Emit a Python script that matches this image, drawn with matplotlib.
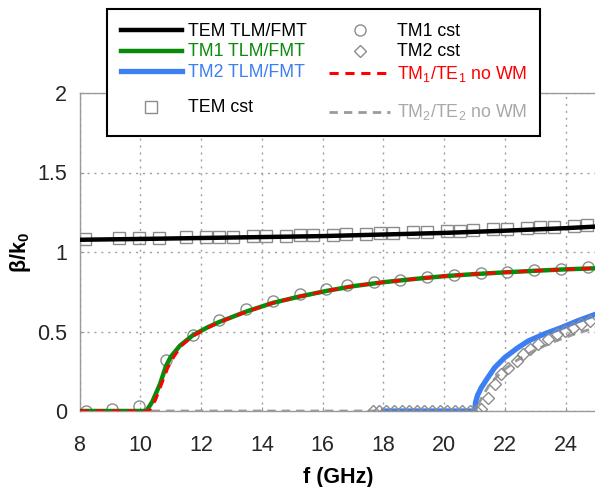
import matplotlib
matplotlib.use('Agg')
import matplotlib.pyplot as plt
from matplotlib.lines import Line2D
from matplotlib.ticker import FuncFormatter

plt.rcParams['font.family'] = ['Liberation Sans', 'DejaVu Sans']
plt.rcParams['mathtext.fontset'] = 'custom'
plt.rcParams['mathtext.rm'] = 'Liberation Sans'
plt.rcParams['mathtext.it'] = 'Liberation Sans:italic'
plt.rcParams['mathtext.bf'] = 'Liberation Sans:bold'

# ---------------- data ----------------
tem_f = [8, 10, 12, 14, 16, 18, 20, 22, 24, 25]
tem_b = [1.077, 1.082, 1.088, 1.094, 1.100, 1.110, 1.120, 1.134, 1.150, 1.160]

tem_cst_f = [8.17, 9.30, 9.96, 10.62, 11.5, 12.16, 12.6, 13.04, 13.7, 14.14, 14.8, 15.24,
             15.68, 16.34, 16.78, 17.44, 17.88, 18.32, 18.98, 19.42, 20.08, 20.52, 20.96,
             21.62, 22.06, 22.72, 23.16, 23.6, 24.26, 24.7]
tem_cst_b = [1.080, 1.085, 1.087, 1.089, 1.092, 1.094, 1.095, 1.097, 1.099, 1.101, 1.103, 1.105,
             1.107, 1.110, 1.112, 1.115, 1.118, 1.120, 1.124, 1.127, 1.131, 1.134, 1.137,
             1.142, 1.146, 1.151, 1.155, 1.159, 1.165, 1.169]

tm1_f = [8, 10.2, 10.4, 10.65, 10.84, 11.0, 11.3, 11.72, 12.2, 12.6, 13.48, 14.36, 15.24,
         16.12, 17, 18, 19, 20, 21, 22, 23, 24, 25]
tm1_b = [0, 0, 0.06, 0.17, 0.28, 0.34, 0.41, 0.475, 0.525, 0.56, 0.625, 0.68, 0.72,
         0.755, 0.785, 0.81, 0.83, 0.848, 0.861, 0.872, 0.882, 0.891, 0.898]

tm1nw_f = [8, 10.3, 10.5, 10.7, 10.9, 11.1, 11.35, 11.72, 12.2, 12.6, 13.48, 14.36, 15.24,
           16.12, 17, 18, 19, 20, 21, 22, 23, 24, 25]
tm1nw_b = [0, 0, 0.07, 0.17, 0.27, 0.34, 0.41, 0.47, 0.522, 0.558, 0.624, 0.679, 0.72,
           0.755, 0.785, 0.81, 0.83, 0.848, 0.861, 0.872, 0.882, 0.891, 0.898]

tm1_cst_f = [8.22, 9.07, 9.96, 10.84, 11.72, 12.6, 13.48, 14.36, 15.24, 16.12, 16.8, 17.68,
             18.56, 19.44, 20.32, 21.2, 22.08, 22.96, 23.84, 24.72]
tm1_cst_b = [0.0, 0.01, 0.03, 0.32, 0.48, 0.57, 0.64, 0.69, 0.735, 0.77, 0.79, 0.81,
             0.826, 0.841, 0.856, 0.866, 0.873, 0.888, 0.896, 0.904]

tm2_f = [18.0, 21.0, 21.03, 21.1, 21.22, 21.4, 21.66, 21.99, 22.4, 22.76, 23.3, 23.86, 24.4, 25]
tm2_b = [0, 0, 0.055, 0.10, 0.147, 0.2, 0.273, 0.336, 0.395, 0.44, 0.485, 0.525, 0.568, 0.61]

tm2nw_f = [8, 21.1, 21.15, 21.25, 21.5, 21.9, 22.4, 23.0, 23.6, 24.3, 24.74, 25]
tm2nw_b = [0, 0, 0.05, 0.09, 0.17, 0.25, 0.32, 0.385, 0.435, 0.485, 0.51, 0.525]

tm2_cst_f = [17.65, 17.85, 18.1, 18.35, 18.6, 18.85, 19.1, 19.35, 19.6, 19.85, 20.1, 20.35,
             20.6, 20.85, 21.05, 21.22, 21.44, 21.66, 21.88, 22.1, 22.38, 22.6, 22.82, 23.1,
             23.42, 23.7, 23.97, 24.25, 24.5, 24.8]
tm2_cst_b = [0, 0, 0, 0, 0, 0, 0, 0, 0, 0, 0, 0,
             0, 0, 0, 0.01, 0.08, 0.17, 0.23, 0.27, 0.315, 0.36, 0.39, 0.42,
             0.45, 0.485, 0.505, 0.525, 0.547, 0.568]

x_ticks = [8, 10, 12, 14, 16, 18, 20, 22, 24]
y_ticks = [0, 0.5, 1, 1.5, 2]

# ---------------- style ----------------
c_green = '#0a8a0a'
c_blue = '#3b7ff2'
c_red = '#ff0000'
c_gray = '#9a9a9a'
c_mark = '#8c8c8c'

fig = plt.figure(figsize=(5.95, 4.87), dpi=100)
ax = fig.add_axes([79.5 / 595, 1 - 411 / 487, (595 - 79.5) / 595 + 0.002, (411 - 93) / 487])

h_tem, = ax.plot(tem_f, tem_b, color='black', lw=3.2, zorder=5)
h_tm1, = ax.plot(tm1_f, tm1_b, color=c_green, lw=3.2, zorder=4)
h_tm2, = ax.plot(tm2_f, tm2_b, color=c_blue, lw=3.8, zorder=4)
h_temc, = ax.plot(tem_cst_f, tem_cst_b, ls='none', marker='s', ms=8, mfc='none', mec=c_mark,
                  mew=1.0, zorder=3)
h_tm1c, = ax.plot(tm1_cst_f, tm1_cst_b, ls='none', marker='o', ms=8, mfc='none', mec=c_mark,
                  mew=1.0, zorder=3)
h_tm2c, = ax.plot(tm2_cst_f, tm2_cst_b, ls='none', marker='D', ms=6.5, mfc='none', mec=c_mark,
                  mew=1.0, zorder=6)
h_tm1n, = ax.plot(tm1nw_f, tm1nw_b, color=c_red, lw=2.2, ls=(0, (3, 2.2)), zorder=5)
h_tm2n, = ax.plot(tm2nw_f, tm2nw_b, color=c_gray, lw=2.0, ls=(0, (3, 2.2)), zorder=2)

ax.set_xlim(8, 25)
ax.set_ylim(0, 2)
ax.set_xticks(x_ticks)
ax.set_yticks(y_ticks)
ax.yaxis.set_major_formatter(FuncFormatter(lambda v, p: ('%g' % v)))
ax.tick_params(axis='both', labelsize=15.5, direction='in', length=3, width=0.8)
ax.tick_params(axis='x', pad=17, colors='#999999', labelcolor='#262626')
ax.tick_params(axis='y', pad=9, colors='#999999', labelcolor='#262626')
ax.grid(True, ls=(0, (1.5, 3.5)), color='#a0a0a0', lw=1.0)
for s in ax.spines.values():
    s.set_color('#9a9a9a')
    s.set_linewidth(1.0)

ax.set_xlabel('f (GHz)', fontsize=15.5, fontweight='bold', labelpad=8)
ax.set_ylabel(r'β/k$_\mathbf{0}$', fontsize=15.5, fontweight='bold')
ax.yaxis.set_label_coords((33 - 79.5) / 515.5, 0.5)

spacer = Line2D([], [], ls='none', marker='none')
handles = [h_tem, h_tm1, h_tm2, spacer, h_temc,
           h_tm1c, h_tm2c, h_tm1n, spacer, h_tm2n]
labels = ['TEM TLM/FMT', 'TM1 TLM/FMT', 'TM2 TLM/FMT', ' ', 'TEM cst',
          'TM1 cst', 'TM2 cst', 'TM$_1$/TE$_1$ no WM', ' ', 'TM$_2$/TE$_2$ no WM']
leg = ax.legend(handles, labels, ncol=2, fontsize=12.8, loc='upper left',
                bbox_to_anchor=(107 / 595, 1 - 9 / 487), bbox_transform=fig.transFigure,
                frameon=True, fancybox=False, framealpha=1, edgecolor='black',
                handlelength=3.45, handleheight=0.35, handletextpad=0.35, columnspacing=1.25,
                labelspacing=0.2, borderpad=0.76, borderaxespad=0)
leg.get_frame().set_linewidth(1.5)
leg.set_zorder(20)
text_colors = ['black', c_green, c_blue, 'black', 'black',
               'black', 'black', c_red, 'black', '#a8a8a8']
for i, (t, c) in enumerate(zip(leg.get_texts(), text_colors)):
    t.set_color(c)
    if i in (3, 8):
        t.set_fontsize(4)

fig.savefig('out.png', dpi=100)
